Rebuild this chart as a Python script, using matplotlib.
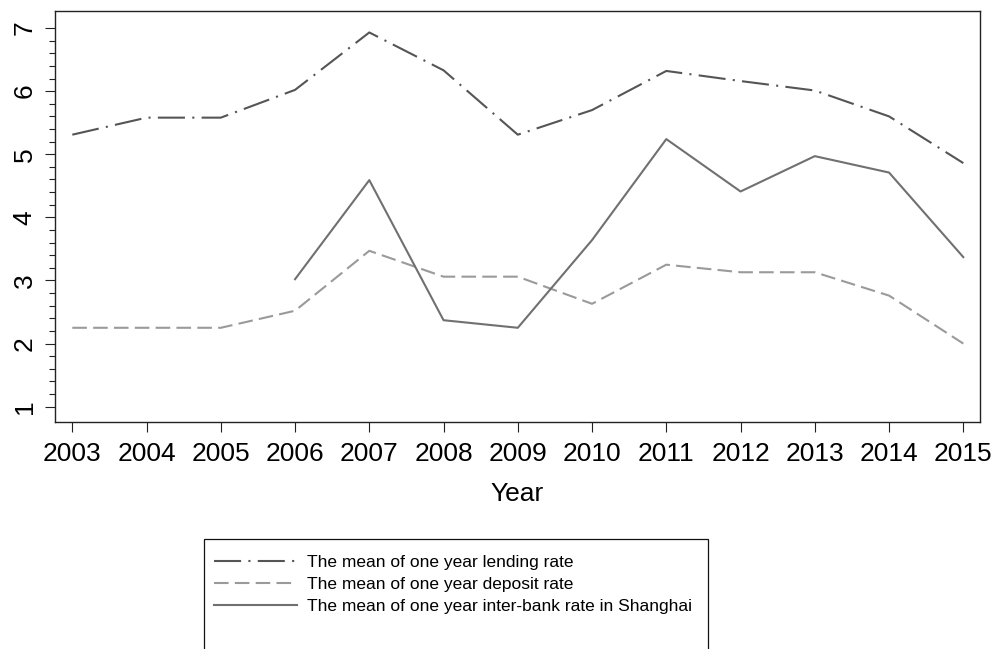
import matplotlib
matplotlib.use("Agg")
import matplotlib.pyplot as plt
from matplotlib.patches import Rectangle
from matplotlib.ticker import FixedLocator

plt.rcParams['font.family'] = ['Liberation Sans', 'DejaVu Sans']

years = [2003, 2004, 2005, 2006, 2007, 2008, 2009, 2010, 2011, 2012, 2013, 2014, 2015]
lending = [5.31, 5.58, 5.58, 6.02, 6.93, 6.33, 5.31, 5.70, 6.32, 6.16, 6.01, 5.60, 4.86]
deposit = [2.25, 2.25, 2.25, 2.52, 3.47, 3.06, 3.06, 2.63, 3.25, 3.13, 3.13, 2.76, 2.00]
interbank_years = [2006, 2007, 2008, 2009, 2010, 2011, 2012, 2013, 2014, 2015]
interbank = [3.02, 4.59, 2.37, 2.25, 3.64, 5.24, 4.41, 4.97, 4.71, 3.37]
labels = ["The mean of one year lending rate",
          "The mean of one year deposit rate",
          "The mean of one year inter-bank rate in Shanghai"]

W, H = 997, 649
fig = plt.figure(figsize=(W / 100, H / 100), dpi=100)
ax = fig.add_axes([55 / W, 1 - 422 / H, (980 - 55) / W, (422 - 11) / H])

lw = 1.5
l1, = ax.plot(years, lending, color='#555555', lw=lw, dashes=(13, 3.5, 1, 3.5), label=labels[0])
l2, = ax.plot(years, deposit, color='#9a9a9a', lw=lw, dashes=(7, 3), label=labels[1])
l3, = ax.plot(interbank_years, interbank, color='#707070', lw=lw, label=labels[2])

ax.set_xlim(2002.767, 2015.225)
ax.set_ylim(0.757, 7.27)
ax.set_xticks(years)
ax.set_xticklabels([str(y) for y in years])
ax.set_yticks(range(1, 8))
ax.yaxis.set_minor_locator(FixedLocator([1 + 0.2 * i for i in range(31) if (i % 5) != 0]))
ax.tick_params(axis='both', which='major', labelsize=19, length=7.2, width=0.8, color='#222222')
ax.tick_params(axis='y', which='minor', length=4, width=0.8, color='#222222')
ax.tick_params(axis='x', pad=7)
ax.tick_params(axis='y', pad=6)
for t in ax.get_yticklabels():
    t.set_rotation(90)
    t.set_va('center')
for s in ax.spines.values():
    s.set_linewidth(1.0)
    s.set_color('#222222')
ax.set_xlabel("Year", fontsize=19, labelpad=12)

leg = fig.legend(handles=[l1, l2, l3], labels=labels, loc='upper left',
                 bbox_to_anchor=(205 / W, 1 - 546 / H), frameon=False,
                 fontsize=12.5, handlelength=4.8, handletextpad=0.55,
                 labelspacing=0.40, borderpad=0)
fig.patches.append(Rectangle((204 / W, 1 - 665 / H), 504 / W, (665 - 539) / H,
                             transform=fig.transFigure, fill=False,
                             edgecolor='#111111', lw=0.9, clip_on=False))

fig.savefig("out.png", dpi=100)
